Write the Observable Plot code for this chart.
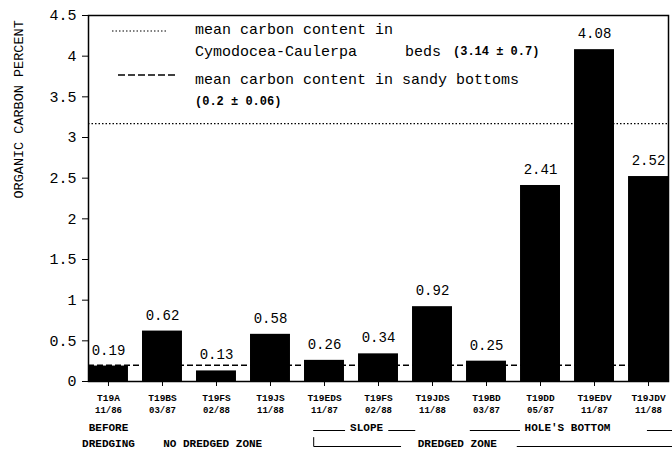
<!DOCTYPE html>
<html><head><meta charset="utf-8">
<script src="https://cdn.jsdelivr.net/npm/d3@7"></script>
<script src="https://cdn.jsdelivr.net/npm/@observablehq/plot@0.6"></script>
<style>
html,body{margin:0;padding:0;background:#fff;}
#wrap{position:relative;width:672px;height:452px;overflow:hidden;}
#legend{position:absolute;left:0;top:0;}
</style></head><body>
<div id="wrap"></div>
<script>
// ---- data ----
const stations = ["T19A","T19BS","T19FS","T19JS","T19EDS","T19FS","T19JDS","T19BD","T19DD","T19EDV","T19JDV"];
const dates = ["11/86","03/87","02/88","11/88","11/87","02/88","11/88","03/87","05/87","11/87","11/88"];
const carbon = [0.19,0.62,0.13,0.58,0.26,0.34,0.92,0.25,2.41,4.08,2.52];
const meanBeds = 3.17;   // drawn level of the "3.14 ± 0.7" reference line
const meanSand = 0.2;    // sandy bottoms mean
const yTicks = [0,0.5,1,1.5,2,2.5,3,3.5,4,4.5];
const yLabel = "ORGANIC CARBON PERCENT";
const groupLabels = ["BEFORE","DREDGING","NO DREDGED ZONE","SLOPE","HOLE'S BOTTOM","DREDGED ZONE"];
const legendLines = ["mean carbon content in","Cymodocea-Caulerpa","beds","(3.14 ± 0.7)","mean carbon content in sandy bottoms","(0.2 ± 0.06)"];

const data = stations.map((s,i)=>({i, station:s, date:dates[i], value:carbon[i]}));
const half = 0.37;
const mono = "'Liberation Mono', 'DejaVu Sans Mono', monospace";

// annotation layout (in band-index units along x)
const groupText = [
  {t:groupLabels[0], x:0,    row:1},
  {t:groupLabels[1], x:0,    row:2},
  {t:groupLabels[2], x:1.93, row:2},
  {t:groupLabels[3], x:4.78, row:1},
  {t:groupLabels[4], x:8.5,  row:1},
  {t:groupLabels[5], x:6.46, row:2}
];
const row1Lines = [[3.80,4.39],[5.19,5.69],[6.70,7.63],[9.98,10.45]];
const row2Lines = [[7.57,10.45]];
const bracket = [[3.80,0.11],[3.80,0],[5.41,0]];

const chart = Plot.plot({
  width: 672,
  height: 452,
  marginLeft: 88,
  marginRight: 4,
  marginTop: 15,
  marginBottom: 71,
  style: {fontFamily: mono, fontSize: "15px", color: "black", background: "white"},
  x: {domain: [-half, stations.length - 1 + half], ticks: data.map(d=>d.i), tickFormat: () => "", tickSize: 5, label: null},
  y: {domain: [0, 4.5], ticks: yTicks, tickFormat: d => String(d), tickSize: 6, tickPadding: 6, label: null},
  marks: [
    Plot.rectY(data, {x1: d => d.i - half, x2: d => d.i + half, y: "value", fill: "black"}),
    Plot.ruleY([meanBeds], {stroke: "black", strokeWidth: 1.2, strokeDasharray: "1.5,2"}),
    Plot.ruleY([meanSand], {stroke: "black", strokeWidth: 1.5, strokeDasharray: "6,3"}),
    Plot.text(data, {x: "i", y: "value", text: d => d.value.toFixed(2), dy: -16, fontSize: 14, fontFamily: mono, fill: "black"}),
    Plot.frame({stroke: "black", strokeWidth: 1.5}),
    Plot.text([yLabel], {frameAnchor: "left", dx: -70, rotate: -90, fontSize: 13.5, fontFamily: mono, fill: "black"}),
    Plot.text(data, {x: "i", y: 0, text: "station", dy: 16, fontSize: 9.5, fontWeight: "bold", fontFamily: mono, fill: "black"}),
    Plot.text(data, {x: "i", y: 0, text: "date", dy: 29, fontSize: 9, fontWeight: "bold", fontFamily: mono, fill: "black"}),
    Plot.text(groupText.filter(d => d.row === 1), {x: "x", y: 0, text: "t", dy: 46, fontSize: 11, fontWeight: "bold", fontFamily: mono, fill: "black"}),
    Plot.text(groupText.filter(d => d.row === 2), {x: "x", y: 0, text: "t", dy: 62, fontSize: 11, fontWeight: "bold", fontFamily: mono, fill: "black"}),
    Plot.ruleY(row1Lines, {x1: d => d[0], x2: d => d[1], y: 0, dy: 49, stroke: "black", strokeWidth: 1}),
    Plot.ruleY(row2Lines, {x1: d => d[0], x2: d => d[1], y: 0, dy: 65, stroke: "black", strokeWidth: 1}),
    Plot.line(bracket, {x: d => d[0], y: d => d[1], dy: 65, stroke: "black", strokeWidth: 1})
  ]
});
document.getElementById("wrap").appendChild(chart);

// legend drawn inside the plotting frame (top-left)
const lg = d3.select("#wrap").append("svg").attr("id","legend").attr("width",672).attr("height",120)
  .style("font-family", mono).attr("fill","black");
lg.append("line").attr("x1",112).attr("x2",168).attr("y1",31).attr("y2",31)
  .attr("stroke","black").attr("stroke-width",1.2).attr("stroke-dasharray","1.5,2");
lg.append("line").attr("x1",118).attr("x2",175).attr("y1",75).attr("y2",75)
  .attr("stroke","black").attr("stroke-width",1.6).attr("stroke-dasharray","7,3");
const lt = (x,y,t,size,weight) => lg.append("text").attr("x",x).attr("y",y).attr("dominant-baseline","middle")
  .attr("font-size",size).attr("font-weight",weight||"normal").text(t);
lt(195,30,legendLines[0],15);
lt(195,52,legendLines[1],15);
lt(405,52,legendLines[2],15);
lt(453,52,legendLines[3],12,"bold");
lt(195,80,legendLines[4],15);
lt(195,102,legendLines[5],12,"bold");
</script>
</body></html>
